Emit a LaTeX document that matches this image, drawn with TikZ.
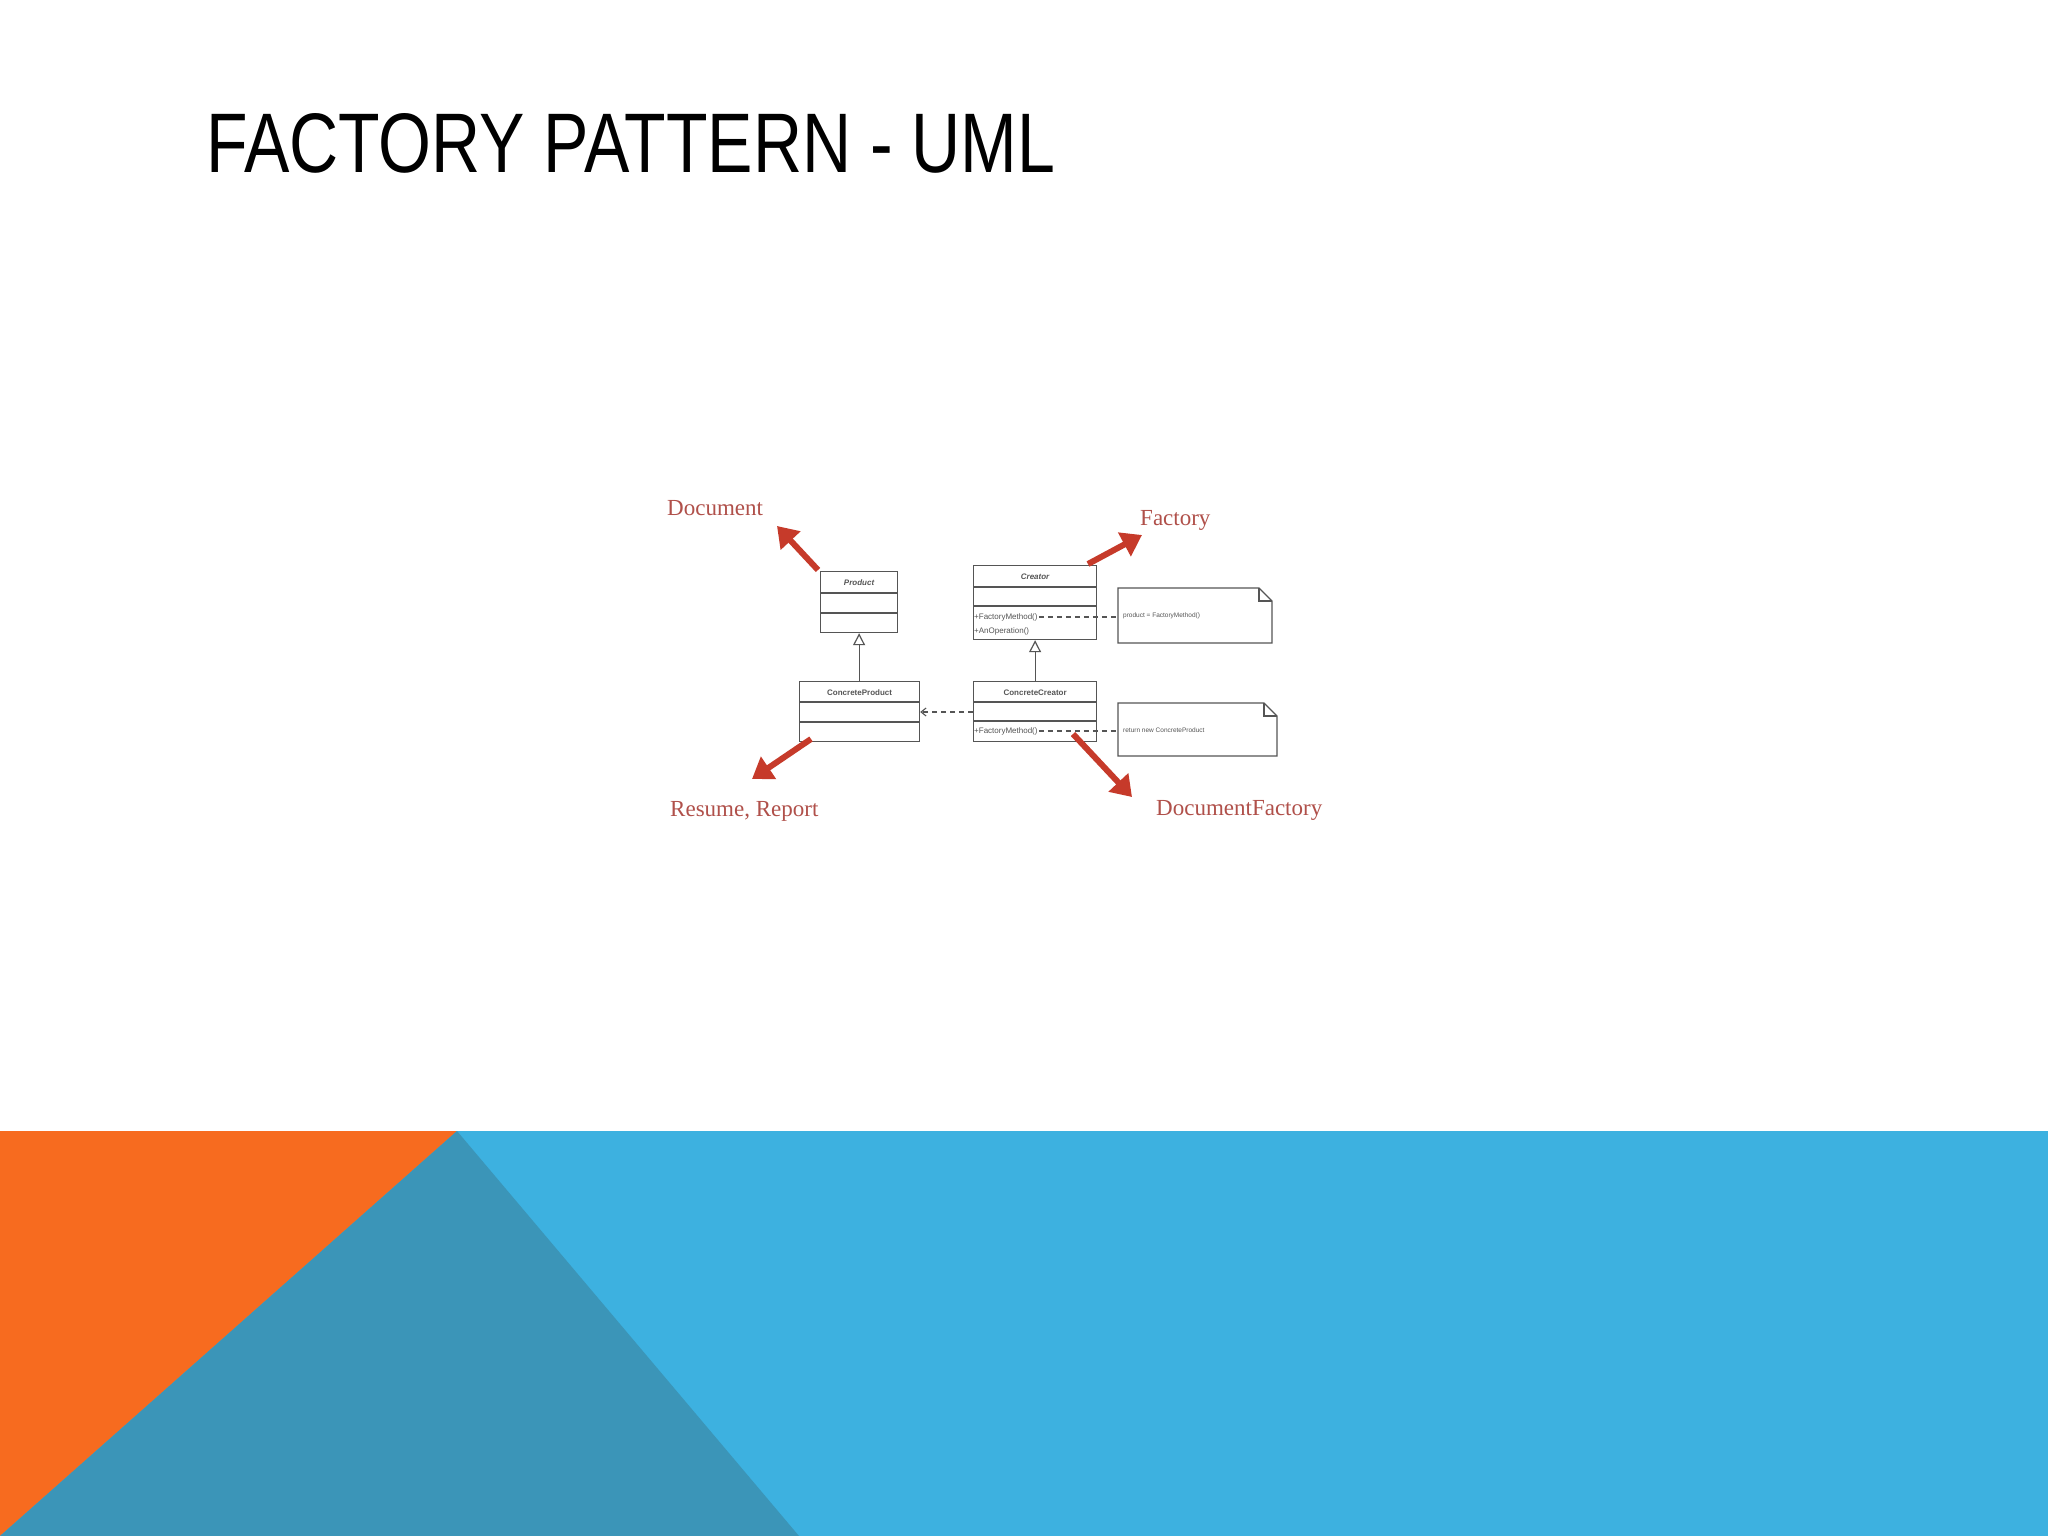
\documentclass[tikz,border=0pt]{standalone}
\usepackage{fontspec}
\setmainfont{Liberation Serif}
\setsansfont{Liberation Sans}
\usetikzlibrary{arrows.meta,calc}
\definecolor{orng}{HTML}{F76B1F}
\definecolor{skyb}{HTML}{3DB1E0}
\definecolor{tealb}{HTML}{3B95B8}
\definecolor{lblred}{HTML}{B0504A}
\definecolor{arrred}{HTML}{C63A2A}
\definecolor{umlg}{HTML}{555555}
\tikzset{
  cls/.style={draw=umlg,line width=1.2pt,anchor=north west,inner sep=0pt},
  clstitle/.style={font=\sffamily\bfseries\fontsize{8}{9}\selectfont,text=umlg,anchor=north},
  op/.style={font=\sffamily\fontsize{8}{9}\selectfont,text=umlg,anchor=west,inner sep=1pt},
  lbl/.style={font=\rmfamily\fontsize{23}{26}\selectfont,text=lblred,anchor=base west,inner sep=0pt},
  bigarrow/.style={draw=arrred,line width=6pt,-{Triangle[length=20pt,width=26pt]}},
  umlline/.style={draw=umlg,line width=1.2pt},
  dashl/.style={draw=umlg,line width=1.1pt,dash pattern=on 5pt off 4pt},
  inh/.style={umlline,-{Triangle[open,length=12pt,width=12pt,fill=white]}},
  notebox/.style={draw=umlg,line width=1.2pt,fill=white},
}
\begin{document}
\begin{tikzpicture}[x=1pt,y=-1pt]
\useasboundingbox (0,0) rectangle (2048,1536);
\fill[white] (0,0) rectangle (2048,1536);
% bottom band
\fill[skyb] (0,1131) rectangle (2048,1536);
\fill[orng] (0,1131) -- (457,1131) -- (0,1536) -- cycle;
\fill[tealb] (457,1131) -- (799,1536) -- (0,1536) -- cycle;
% title
\node[anchor=south west,inner sep=0pt] (title) at (206,174) {\resizebox{849pt}{59pt}{\sffamily FACTORY PATTERN - UML}};
% Product
\node[cls,minimum width=77pt,minimum height=61pt] (product) at (820,571) {};
\draw[umlline] ($(product.north west)+(0,22)$) -- ($(product.north east)+(0,22)$);
\draw[umlline] ($(product.north west)+(0,42)$) -- ($(product.north east)+(0,42)$);
\node[clstitle,font=\sffamily\bfseries\itshape\fontsize{8}{9}\selectfont] (ptitle) at ($(product.north)+(0,5)$) {Product};
% ConcreteProduct
\node[cls,minimum width=120pt,minimum height=60pt] (cproduct) at (799,681) {};
\draw[umlline] ($(cproduct.north west)+(0,21)$) -- ($(cproduct.north east)+(0,21)$);
\draw[umlline] ($(cproduct.north west)+(0,41)$) -- ($(cproduct.north east)+(0,41)$);
\node[clstitle] (cptitle) at ($(cproduct.north)+(0,5)$) {ConcreteProduct};
% Creator
\node[cls,minimum width=123pt,minimum height=74pt] (creator) at (973,565) {};
\draw[umlline] ($(creator.north west)+(0,22)$) -- ($(creator.north east)+(0,22)$);
\draw[umlline] ($(creator.north west)+(0,41)$) -- ($(creator.north east)+(0,41)$);
\node[clstitle,font=\sffamily\bfseries\itshape\fontsize{8}{9}\selectfont] (ctitle) at ($(creator.north)+(0,5)$) {Creator};
\node[op] (fm1) at (973,617) {+FactoryMethod()};
\node[op] (aop) at (973,631) {+AnOperation()};
% ConcreteCreator
\node[cls,minimum width=123pt,minimum height=60pt] (ccreator) at (973,681) {};
\draw[umlline] ($(ccreator.north west)+(0,21)$) -- ($(ccreator.north east)+(0,21)$);
\draw[umlline] ($(ccreator.north west)+(0,40)$) -- ($(ccreator.north east)+(0,40)$);
\node[clstitle] (cctitle) at ($(ccreator.north)+(0,5)$) {ConcreteCreator};
\node[op] (fm2) at (973,731) {+FactoryMethod()};
% notes
\draw[notebox] (1118,588) -- (1259,588) -- (1272,601) -- (1272,643) -- (1118,643) -- cycle;
\draw[umlline] (1259,588) -- (1259,601) -- (1272,601);
\coordinate (n1) at (1118,617);
\node[op,font=\sffamily\fontsize{6.5}{8}\selectfont] (n1t) at (1122,616) {product = FactoryMethod()};
\draw[notebox] (1118,703) -- (1264,703) -- (1277,716) -- (1277,756) -- (1118,756) -- cycle;
\draw[umlline] (1264,703) -- (1264,716) -- (1277,716);
\coordinate (n2) at (1118,731);
\node[op,font=\sffamily\fontsize{6.5}{8}\selectfont] (n2t) at (1122,730) {return new ConcreteProduct};
% connectors
\draw[inh] (cproduct.north -| product.south) -- (product.south);
\draw[inh] (ccreator.north) -- (creator.south);
\draw[dashl] (fm1.east) -- (n1);
\draw[dashl] (fm2.east) -- (n2);
\draw[dashl,-{Straight Barb[length=5pt,width=8pt]}] (ccreator.west |- 0,712) -- (cproduct.east |- 0,712);
% labels
\node[lbl] (doc) at (667,515) {Document};
\node[lbl] (res) at (670,816) {Resume, Report};
\node[lbl] (fac) at (1140,525) {Factory};
\node[lbl] (docf) at (1156,815) {DocumentFactory};
\coordinate (a1s) at (818,570); \coordinate (a1e) at (777,526);
\coordinate (a2s) at (811,739); \coordinate (a2e) at (752,779);
\coordinate (a3s) at (1088,564); \coordinate (a3e) at (1142,535);
\coordinate (a4s) at (1073,734); \coordinate (a4e) at (1132,797);
\draw[bigarrow] (a1s) -- (a1e);
\draw[bigarrow] (a2s) -- (a2e);
\draw[bigarrow] (a3s) -- (a3e);
\draw[bigarrow] (a4s) -- (a4e);
\end{tikzpicture}
\end{document}
